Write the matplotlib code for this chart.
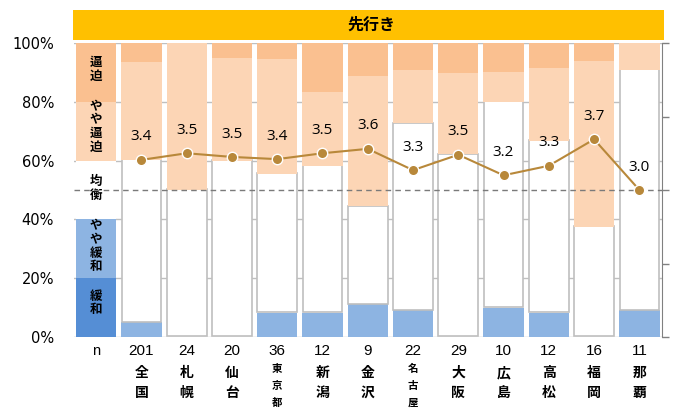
import matplotlib
matplotlib.use("Agg")
import matplotlib.pyplot as plt
import matplotlib.transforms as mtransforms
from matplotlib.patches import Rectangle
import numpy as np

plt.rcParams['font.family'] = ['Noto Sans CJK JP', 'DejaVu Sans']

# ---------------- data ----------------
levels = ['緩和', 'やや緩和', '均衡', 'やや逼迫', '逼迫']
level_colors = ['#558ED5', '#8DB4E2', '#FFFFFF', '#FCD5B5', '#FAC090']
legend_share = [20, 20, 20, 20, 20]

cities = ['全国', '札幌', '仙台', '東京都', '新潟', '金沢', '名古屋', '大阪', '広島', '高松', '福岡', '那覇']
n_counts = [201, 24, 20, 36, 12, 9, 22, 29, 10, 12, 16, 11]

kanwa        = [0, 0, 0, 0, 0, 0, 0, 0, 0, 0, 0, 0]
yaya_kanwa   = [5.0, 0, 0, 8.3, 8.3, 11.1, 9.1, 0, 10.0, 8.3, 0, 9.1]
kinko        = [55.2, 50.0, 60.0, 47.2, 50.0, 33.3, 63.6, 62.1, 70.0, 58.3, 37.5, 81.8]
yaya_hippaku = [33.3, 50.0, 35.0, 38.9, 25.0, 44.4, 18.2, 27.6, 10.0, 25.0, 56.25, 9.1]
hippaku      = [6.5, 0, 5.0, 5.6, 16.7, 11.1, 9.1, 10.3, 10.0, 8.3, 6.25, 0]

di_values = [3.41, 3.50, 3.45, 3.42, 3.50, 3.56, 3.27, 3.48, 3.20, 3.33, 3.69, 3.00]
di_labels = ['3.4', '3.5', '3.5', '3.4', '3.5', '3.6', '3.3', '3.5', '3.2', '3.3', '3.7', '3.0']

pct_ticks = [0, 20, 40, 60, 80, 100]
pct_labels = ['0%', '20%', '40%', '60%', '80%', '100%']

# ---------------- figure ----------------
W, H = 678, 412
fig = plt.figure(figsize=(W / 100, H / 100), dpi=100)
ax_l, ax_r, ax_t, ax_b = 73.5, 662, 43, 337
ax = fig.add_axes([ax_l / W, (H - ax_b) / H, (ax_r - ax_l) / W, (ax_b - ax_t) / H])

# title band
fig.patches.append(Rectangle((72.7 / W, (H - 39.5) / H), (664 - 72.7) / W, 29.5 / H,
                             transform=fig.transFigure, facecolor='#FFC000',
                             edgecolor='none', zorder=0))
fig.text(371 / W, (H - 24.5) / H, '先行き', ha='center', va='center',
         fontsize=11.5, fontweight='bold', color='black')

ncat = len(cities) + 1
x = np.arange(ncat)
xc = x[1:]
bw = 0.89
grid_c = '#BFBFBF'

ax.set_xlim(-0.5, ncat - 0.5)
ax.set_ylim(0, 100)
for t in pct_ticks:
    ax.axhline(t, color=grid_c, lw=1.0, zorder=0)

# legend column
bottom = 0
for share, col in zip(legend_share, level_colors):
    ax.bar(x[0], share, bw, bottom=bottom, color=col, edgecolor='none', zorder=2)
    bottom += share

# legend column labels (vertical characters)
px_per_unit = (ax_b - ax_t) / 100.0
spacing = 13.6 / px_per_unit
centers = [10, 30, 50, 70, 90]
offsets = [1.5, 0.8, 0.5, 1.5, 1.0]
for lab, c, off in zip(levels, centers, offsets):
    k = len(lab)
    for i, ch in enumerate(lab):
        yy = c + off + ((k - 1) / 2 - i) * spacing
        ax.text(x[0], yy, ch, ha='center', va='center', fontsize=9,
                fontweight='bold', color='black', zorder=5)

# city stacked bars
series = [kanwa, yaya_kanwa, kinko, yaya_hippaku, hippaku]
bottom = np.zeros(len(cities))
for vals, col in zip(series, level_colors):
    vals = np.array(vals, dtype=float)
    if col == '#FFFFFF':
        ax.bar(xc, vals, bw * 0.985, bottom=bottom + 0.25, color=col,
               edgecolor=grid_c, linewidth=1.2, zorder=2)
    else:
        ax.bar(xc, vals, bw, bottom=bottom, color=col, edgecolor='none',
               linewidth=0, zorder=2)
    bottom += vals

ax.set_yticks(pct_ticks)
ax.set_yticklabels(pct_labels, fontsize=10.5, family=['DejaVu Sans'])
ax.tick_params(axis='y', length=0, pad=14)
ax.set_xticks([])
for s in ['left', 'top', 'right', 'bottom']:
    ax.spines[s].set_visible(False)

# secondary axis with DI line
ax2 = ax.twinx()
ax2.set_ylim(1, 5)
ax2.set_xlim(-0.5, ncat - 0.5)
ax2.axhline(3.0, color='#7A7A7A', lw=1.0, ls=(0, (4, 3)), zorder=3)
ax2.plot(xc, di_values, color='#B8883A', lw=1.5, marker='o', ms=7.5,
         mfc='#B8883A', mec='white', mew=1.0, zorder=4)
for xi, v, lab in zip(xc, di_values, di_labels):
    ax2.annotate(lab, (xi, v), xytext=(0, 16.5), textcoords='offset points',
                 ha='center', va='center', fontsize=11, family=['Open Sans', 'DejaVu Sans'],
                 color='black', zorder=6)
ax2.set_yticks([1, 2, 3, 4, 5])
ax2.set_yticklabels([])
ax2.tick_params(axis='y', direction='out', length=5, color='#808080', width=1)
for s in ['left', 'top', 'bottom']:
    ax2.spines[s].set_visible(False)
ax2.spines['right'].set_color('#808080')

# bottom labels
trans = mtransforms.blended_transform_factory(ax.transData, fig.transFigure)
fig_y = lambda ypx: (H - ypx) / H
ax.text(x[0], fig_y(351), 'n', transform=trans, ha='center', va='center',
        fontsize=10.5, family=['Liberation Sans Narrow', 'Liberation Sans'], clip_on=False)
for xi, n, name in zip(xc, n_counts, cities):
    ax.text(xi, fig_y(351), str(n), transform=trans, ha='center', va='center',
            fontsize=11, family=['Liberation Sans Narrow', 'Liberation Sans'], clip_on=False)
    if len(name) == 2:
        ys = [373, 393]
        fs = 10
    else:
        ys = [369, 386, 403]
        fs = 7.5
    for ch, yy in zip(name, ys):
        ax.text(xi, fig_y(yy), ch, transform=trans, ha='center', va='center',
                fontsize=fs, fontweight='bold', clip_on=False)

fig.savefig('out.png', dpi=100)
